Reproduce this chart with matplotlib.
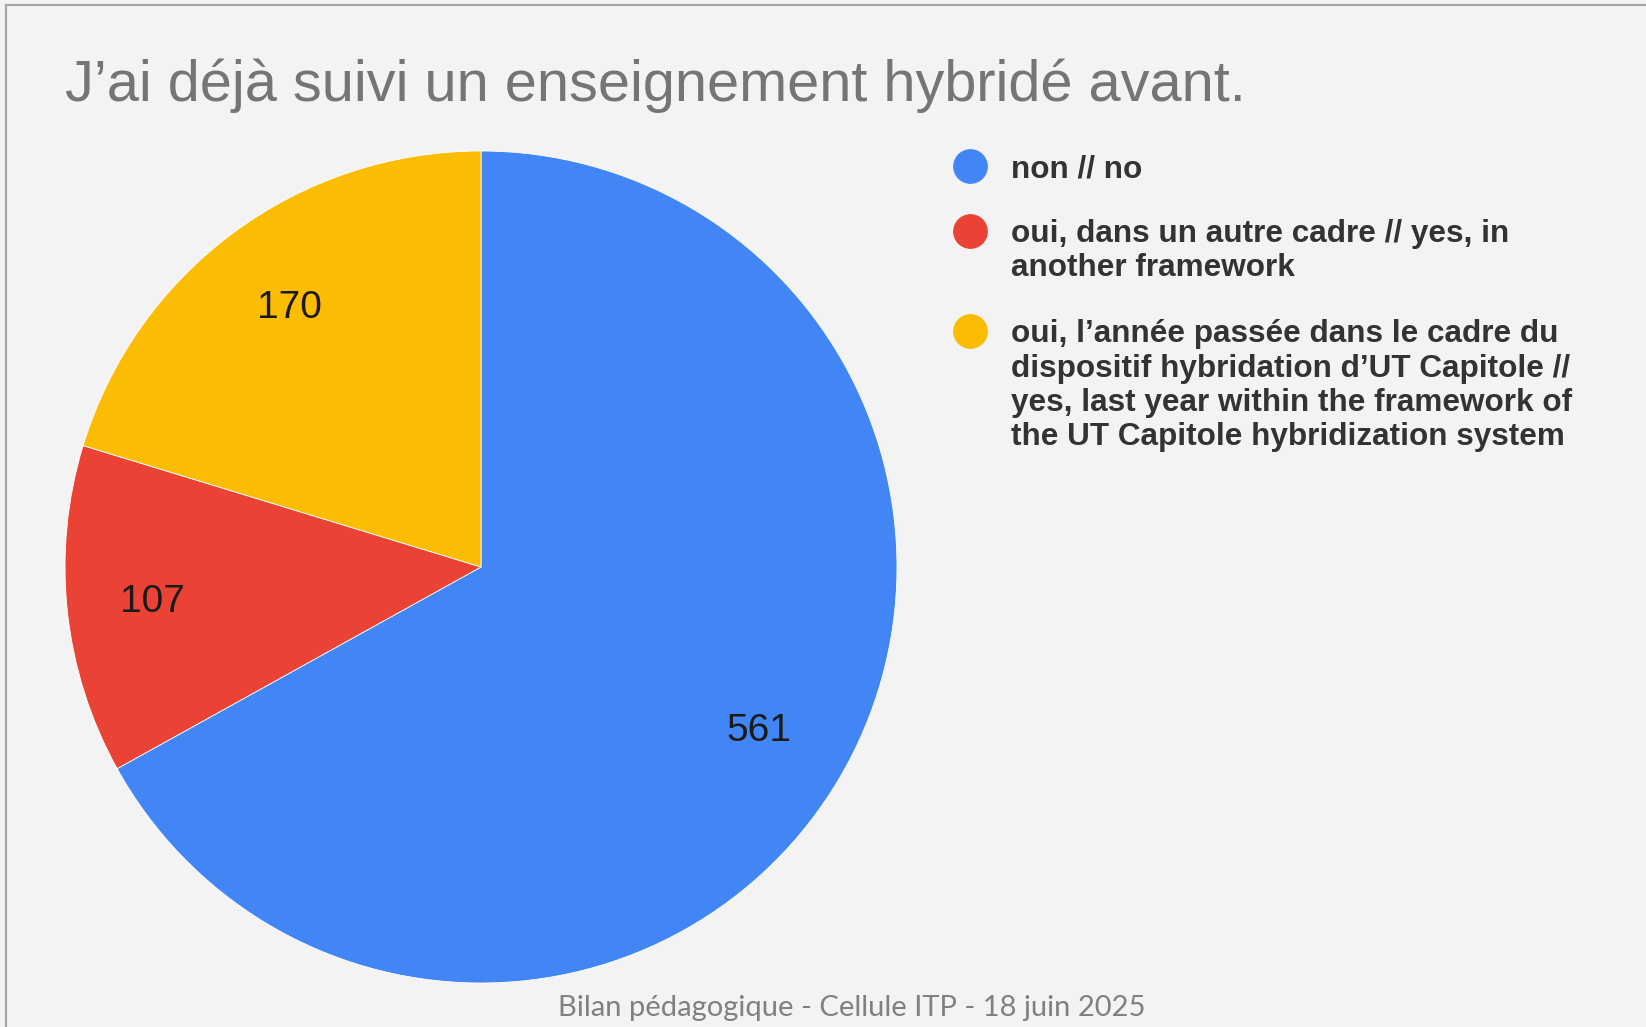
import matplotlib
matplotlib.use("Agg")
import matplotlib.pyplot as plt
from matplotlib.lines import Line2D

# Données
categories = [
    "non // no",
    "oui, dans un autre cadre // yes, in\nanother framework",
    "oui, l\u2019année passée dans le cadre du\ndispositif hybridation d\u2019UT Capitole //\nyes, last year within the framework of\nthe UT Capitole hybridization system",
]
valeurs = [561, 107, 170]
couleurs = ["#4285f4", "#ea4335", "#fbbc04"]

titre = "J\u2019ai déjà suivi un enseignement hybridé avant."
pied = "Bilan pédagogique - Cellule ITP - 18 juin 2025"

W, H = 1646, 1027
fond = "#f3f3f3"
plt.rcParams["font.family"] = ["Liberation Sans", "DejaVu Sans"]

fig = plt.figure(figsize=(W / 100, H / 100), dpi=100, facecolor=fond)

# camembert : centre (481, 567), rayon 416 px
cx, cy, r = 481, 567, 416
ax = fig.add_axes([(cx - r) / W, (H - cy - r) / H, 2 * r / W, 2 * r / H])
ax.set_facecolor(fond)
total = sum(valeurs)
wedges, _, autotexts = ax.pie(
    valeurs, colors=couleurs, startangle=90, counterclock=False,
    autopct=lambda p: f"{round(p * total / 100)}", pctdistance=0.775,
    wedgeprops=dict(edgecolor="white", linewidth=0.6),
    textprops=dict(fontsize=28, color="#1a1a1a"),
)
# l'étiquette de la petite part est un peu plus vers l'extérieur
x0, y0 = autotexts[1].get_position()
autotexts[1].set_position((x0 * 0.795 / 0.775, y0 * 0.795 / 0.775))
ax.set_xlim(-1, 1)
ax.set_ylim(-1, 1)
ax.set_aspect("equal")
ax.axis("off")

# titre
fig.text(65 / W, 1 - 86 / H, titre, fontsize=41.5, color="#757575",
         ha="left", va="center")

# légende à droite
pas = 34.6
leg_y = [166, 231, 331]  # première ligne de chaque entrée
for cat, col, y in zip(categories, couleurs, leg_y):
    nb = cat.count("\n")
    fig.add_artist(Line2D([970 / W], [1 - y / H], marker="o", markersize=24,
                          color=col, linestyle="none"))
    fig.text(1011 / W, 1 - (y + 3 + nb * pas / 2) / H, cat, fontsize=22.7,
             fontweight="bold", color="#333333", ha="left", va="center",
             linespacing=1.19)

# pied de page
fig.text(852 / W, 1 - 1008 / H, pied, fontsize=21, color="#808080",
         ha="center", va="center", family=["Lato", "DejaVu Sans"])

# bordure grise en haut et à gauche
fig.add_artist(Line2D([6 / W, 1], [1 - 5 / H, 1 - 5 / H], color="#a6a6a6", lw=1.6))
fig.add_artist(Line2D([6 / W, 6 / W], [0, 1 - 5 / H], color="#a6a6a6", lw=1.6))

fig.savefig("out.png", dpi=100, facecolor=fond)
